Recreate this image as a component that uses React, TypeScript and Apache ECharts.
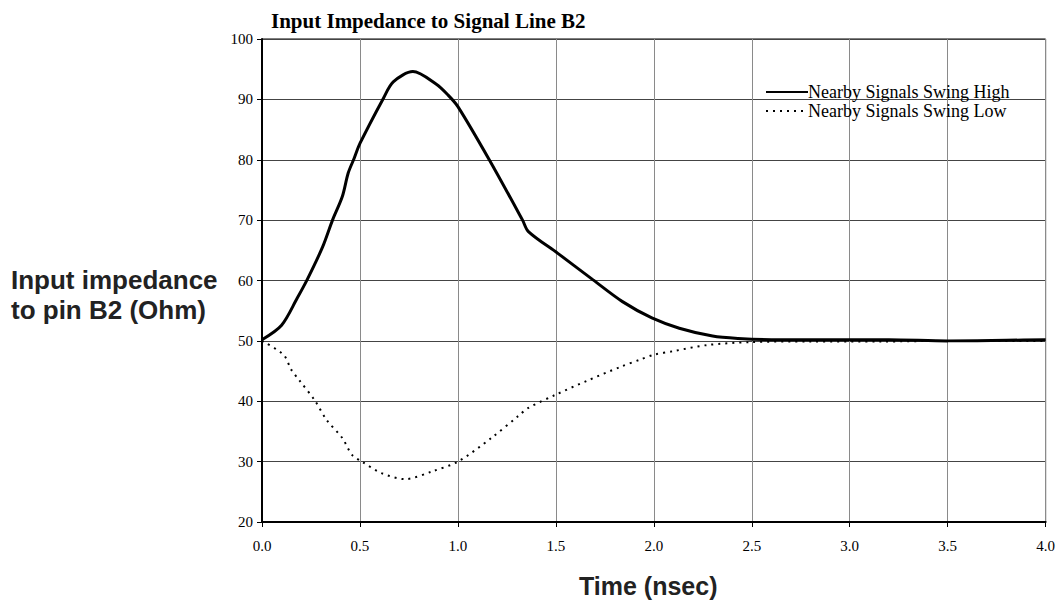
import React, { useEffect, useRef } from "react";
import * as echarts from "echarts";

const highX = [0, 0.1, 0.18, 0.23, 0.31, 0.36, 0.41, 0.44, 0.47, 0.5, 0.62, 0.67, 0.77, 0.89, 0.95, 1.0, 1.16, 1.33, 1.36, 1.51, 1.69, 1.84, 1.99, 2.13, 2.3, 2.43, 2.6, 3.0, 3.2, 3.5, 3.8, 4.0];
const highY = [50.2, 52.6, 57.1, 60.1, 65.6, 70.0, 73.9, 77.8, 80.2, 82.7, 90.2, 92.9, 94.6, 92.5, 90.7, 88.8, 80.0, 70.0, 68.1, 64.5, 60.1, 56.5, 53.8, 52.1, 50.8, 50.4, 50.2, 50.2, 50.2, 50.0, 50.1, 50.2];

const lowX = [0, 0.11, 0.15, 0.19, 0.27, 0.33, 0.41, 0.46, 0.51, 0.61, 0.73, 0.87, 1.0, 1.17, 1.31, 1.36, 1.5, 1.66, 1.83, 1.93, 2.0, 2.1, 2.27, 2.49, 2.8, 3.16, 3.5, 4.0];
const lowY = [50.0, 47.7, 45.2, 43.5, 40.1, 36.9, 33.9, 31.1, 30.0, 28.1, 27.1, 28.4, 30.0, 33.9, 37.6, 38.9, 41.1, 43.4, 45.7, 46.9, 47.7, 48.3, 49.3, 49.8, 49.9, 49.9, 50.0, 50.0];

const seriesNames = ["Nearby Signals Swing High", "Nearby Signals Swing Low"];
const chartTitle = "Input Impedance to Signal Line B2";
const xTitle = "Time (nsec)";
const yTitleLines = ["Input impedance", "to pin B2 (Ohm)"];

const serif = "'Liberation Serif', 'Times New Roman', serif";
const sans = "'Liberation Sans', Arial, sans-serif";

export default function App() {
  const ref = useRef<HTMLDivElement>(null);
  useEffect(() => {
    if (!ref.current) return;
    const chart = echarts.init(ref.current, null, { renderer: "svg" });
    const high = highX.map((x, i) => [x, highY[i]]);
    const low = lowX.map((x, i) => [x, lowY[i]]);
    chart.setOption({
      animation: false,
      backgroundColor: "#ffffff",
      title: {
        text: chartTitle,
        left: 266,
        top: 5,
        textStyle: { fontFamily: serif, fontWeight: "bold", fontSize: 21, color: "#000" },
      },
      legend: {
        orient: "vertical",
        left: 765,
        top: 83,
        padding: 0,
        itemWidth: 42,
        itemHeight: 12,
        itemGap: 1,
        itemStyle: { opacity: 0 },
        textStyle: { fontFamily: serif, fontSize: 18, color: "#000", padding: [0, 0, 0, -5] },
        data: seriesNames,
      },
      grid: {
        left: 262,
        right: 12,
        top: 39,
        bottom: 85,
        show: true,
        borderColor: "#000",
        borderWidth: 1,
      },
      xAxis: {
        type: "value",
        min: 0,
        max: 4,
        interval: 0.5,
        axisLine: { show: true, onZero: false, lineStyle: { color: "#000", width: 2 } },
        axisTick: { show: true, length: 5, lineStyle: { color: "#000" } },
        axisLabel: {
          formatter: (v: number) => v.toFixed(1),
          fontFamily: serif,
          fontSize: 15,
          color: "#000",
          margin: 16,
        },
        splitLine: { show: true, lineStyle: { color: "#8a8a8a", width: 1 } },
      },
      yAxis: {
        type: "value",
        min: 20,
        max: 100,
        interval: 10,
        axisLine: { show: true, onZero: false, lineStyle: { color: "#000", width: 2 } },
        axisTick: { show: true, length: 5, lineStyle: { color: "#000" } },
        axisLabel: { fontFamily: serif, fontSize: 15, color: "#000", margin: 9 },
        splitLine: { show: true, lineStyle: { color: "#444", width: 1 } },
      },
      graphic: [
        {
          type: "text",
          left: 579,
          top: 573,
          style: { text: xTitle, font: `bold 25px ${sans}`, fill: "#222" },
        },
        {
          type: "text",
          left: 11,
          top: 265,
          style: { text: yTitleLines.join("\n"), font: `bold 26px ${sans}`, fill: "#222", lineHeight: 30 },
        },
      ],
      series: [
        {
          name: seriesNames[1],
          type: "line",
          data: low,
          symbol: "none",
          smooth: 0.3,
          z: 2,
          lineStyle: { color: "#000", width: 2, type: [2, 5] },
          itemStyle: { color: "#000" },
        },
        {
          name: seriesNames[0],
          type: "line",
          data: high,
          symbol: "none",
          smooth: 0.3,
          z: 3,
          lineStyle: { color: "#000", width: 3 },
          itemStyle: { color: "#000" },
        },
      ],
    });
    return () => chart.dispose();
  }, []);
  return (
    <div
      ref={ref}
      style={{ position: "fixed", left: 0, top: 0, width: 1058, height: 607 }}
    />
  );
}
